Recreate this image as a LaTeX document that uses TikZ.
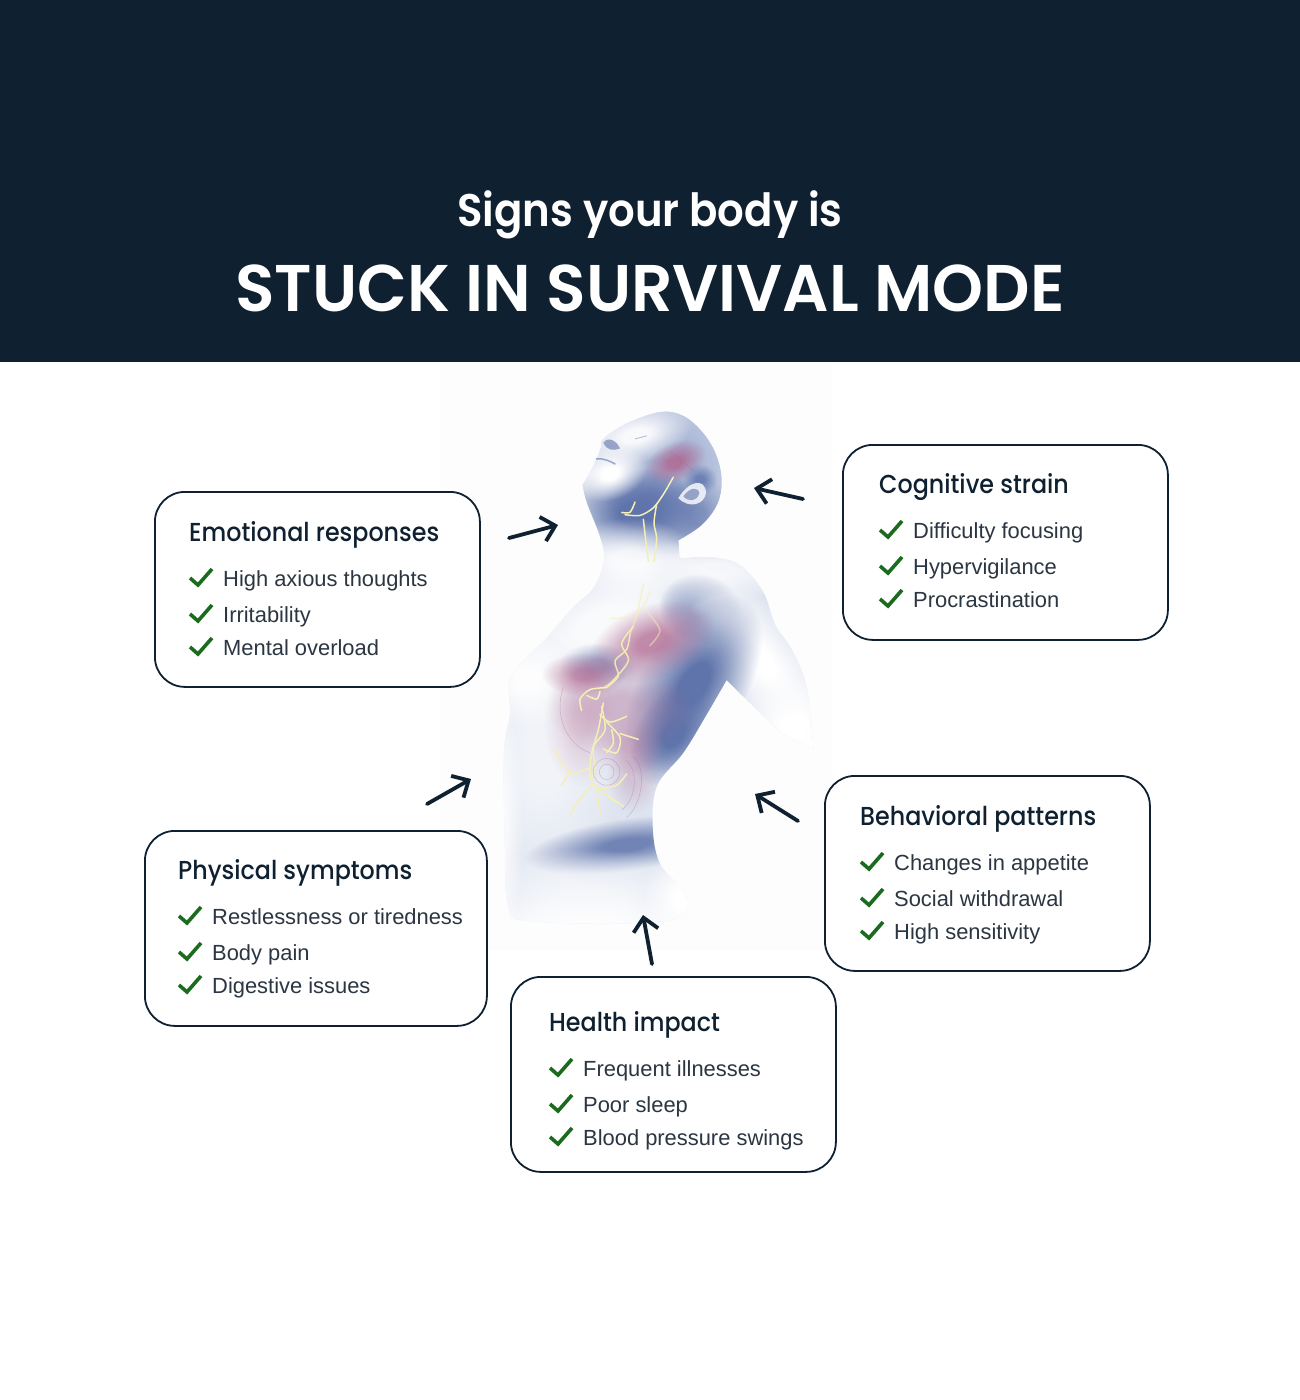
\documentclass[tikz,border=0pt]{standalone}
\usepackage{fontspec}
\usetikzlibrary{arrows.meta,fadings}
\setmainfont{Liberation Sans}
\newfontfamily\headfont{Poppins}[UprightFont=* Medium,FakeStretch=0.915]
\newfontfamily\subfont{Poppins}[UprightFont=* SemiBold,FakeStretch=0.915]
\newfontfamily\titlefont{Poppins}[UprightFont=* SemiBold,FakeStretch=0.982]
\definecolor{navy}{HTML}{0F2030}
\definecolor{inkgrey}{HTML}{2B3642}
\definecolor{tickgreen}{HTML}{1B6B1E}
\definecolor{skin}{HTML}{DDE3EF}
\definecolor{paleblue}{HTML}{A5B3D4}
\definecolor{bodyblue}{HTML}{5F74AB}
\definecolor{nerve}{HTML}{F4EFB4}
\definecolor{organ}{HTML}{B0608A}
\pgfdeclareradialshading{softshade}{\pgfpointorigin}{color(0bp)=(white); color(5bp)=(white); color(22bp)=(black); color(50bp)=(black)}
\pgfdeclarefading{softfade}{\pgfuseshading{softshade}}
\tikzset{
  signbox/.style={draw=navy,line width=1.8pt,rounded corners=30pt,fill=white,
    minimum width=#1,minimum height=195pt,anchor=north west,inner sep=0pt},
  signhead/.style={anchor=base west,inner sep=0pt,text=navy,font=\headfont\fontsize{26}{30}\selectfont},
  signitem/.style={anchor=base west,inner sep=0pt,text=inkgrey,font=\fontsize{21.9}{26}\selectfont},
  tick/.style={draw=tickgreen,line width=3.6pt,line join=miter},
  pointer/.style={draw=navy,line width=3.8pt,line cap=round,
    -{Straight Barb[length=13pt,width=25pt,line width=3.8pt]}},
  nerveline/.style={draw=nerve,line width=1.5pt,line join=round,line cap=round},
  organline/.style={draw=organ,line width=.5pt,opacity=.35}
}
% x y rx ry angle colour opacity, x and y as read off the crop
\newcommand{\softblob}[7]{\fill[#6,opacity=#7,path fading=softfade,
  transform canvas={shift={({430+#1/3},{370+#2/2.613})},rotate=#5}] (0,0) ellipse ({1.3*#3/3} and {1.3*#4/2.613});}
\newcommand{\nervepath}[2][]{\draw[nerveline,#1] plot[smooth,tension=.5] coordinates {#2};}
% one box with its heading and three ticked lines
\newcommand{\signcard}[9]{%
  \node[signbox=#4] (#1) at (#2,#3) {};
  \coordinate (#1text) at ([shift={#5}]#1.north west);
  \node[signhead] (#1head) at ([shift={(0,49)}]#1text) {#6};
  \node[signitem] (#1a) at ([shift={(34,94)}]#1text) {#7};
  \node[signitem] (#1b) at ([shift={(34,130)}]#1text) {#8};
  \node[signitem] (#1c) at ([shift={(34,163)}]#1text) {#9};
  \draw[tick] (#1a.base west) ++(-33,-8) -- ++(8,7) -- ++(14,-16);
  \draw[tick] (#1b.base west) ++(-33,-8) -- ++(8,7) -- ++(14,-16);
  \draw[tick] (#1c.base west) ++(-33,-8) -- ++(8,7) -- ++(14,-16);
}
\def\bodypath{plot[smooth,tension=.6] coordinates {(458,300) (490,250) (512,205) (520,180) (590,140) (690,110) (760,120) (820,165) (860,225) (875,290) (862,350) (815,405) (745,445)}
  -- (748,490) -- plot[smooth,tension=.6] coordinates {(760,492) (850,490) (930,510) (1000,580) (1035,665) (1085,730) (1130,830) (1150,990)}
  -- plot[smooth,tension=.6] coordinates {(1150,990) (1060,950) (960,870) (890,810)}
  -- plot[smooth,tension=.6] coordinates {(890,810) (830,900) (760,1000) (682,1085) (668,1190) (690,1290) (770,1380) (700,1440) (300,1440) (235,1400) (225,1250) (222,1000) (240,900) (238,820) (270,770) (350,700) (430,620) (490,570) (522,500) (512,440) (470,345) (458,300)}
  -- cycle}
\begin{document}
\begin{tikzpicture}[x=1pt,y=-1pt]
\useasboundingbox (0,0) rectangle (1300,1400);
\fill[navy] (0,0) rectangle (1300,362);
\fill[black!.7] (440,365) rectangle (832,950);
\node[text=white,inner sep=0pt,anchor=base,font=\subfont\fontsize{45.7}{50}\selectfont] (subtitle) at (650,226) {Signs your body is};
\node[text=white,inner sep=0pt,anchor=base,font=\titlefont\fontsize{66}{70}\selectfont] (title) at (650,311) {STUCK IN SURVIVAL MODE};
% the figure
\begin{scope}
  \clip[shift={(430,370)},xscale=1/3,yscale=1/2.613] \bodypath;
  \fill[skin] (430,370) rectangle (850,970);
  \softblob{730}{260}{230}{250}{0}{paleblue}{1}
  \softblob{620}{375}{190}{110}{-5}{bodyblue}{1}
  \softblob{660}{340}{120}{70}{-5}{bodyblue}{.7}
  \softblob{800}{380}{100}{90}{0}{bodyblue}{.6}
  \softblob{620}{170}{150}{65}{15}{white}{.9}
  \softblob{540}{270}{100}{60}{20}{white}{1}
  \softblob{600}{495}{180}{95}{0}{white}{.85}
  \softblob{860}{520}{210}{60}{-10}{white}{.7}
  \softblob{520}{660}{320}{130}{25}{white}{.85}
  \softblob{290}{810}{130}{110}{0}{white}{.95}
  \softblob{810}{625}{110}{80}{-15}{bodyblue}{1}
  \softblob{970}{740}{125}{300}{42}{white}{1}
  \softblob{1090}{930}{150}{120}{0}{white}{1}
  \softblob{1160}{1000}{110}{90}{0}{white}{1}
  \softblob{790}{820}{260}{120}{58}{bodyblue}{1}
  \softblob{730}{950}{150}{85}{58}{bodyblue}{1}
  \softblob{500}{770}{100}{50}{0}{bodyblue}{.6}
  \softblob{340}{1010}{220}{340}{0}{white}{.6}
  \softblob{590}{1240}{270}{60}{8}{bodyblue}{.85}
  \softblob{470}{1400}{400}{130}{0}{white}{.75}
  \softblob{470}{1480}{480}{90}{0}{white}{1}
  \softblob{760}{1380}{110}{110}{0}{white}{1}
  \softblob{200}{1200}{70}{330}{0}{white}{.9}
  % organs
  \softblob{665}{710}{170}{85}{20}{organ}{.7}
  \softblob{460}{795}{110}{50}{0}{organ}{.6}
  \softblob{570}{880}{190}{105}{0}{organ}{.35}
  \softblob{450}{920}{95}{145}{0}{organ}{.25}
  \softblob{600}{980}{95}{70}{0}{organ}{.35}
  \softblob{610}{1060}{70}{85}{0}{organ}{.25}
  \softblob{735}{240}{85}{45}{25}{organ}{.75}
  \softblob{810}{285}{45}{35}{0}{bodyblue}{.8}
\end{scope}
\begin{scope}[shift={(430,370)},xscale=1/3,yscale=1/2.613]
  % face and ear
  \draw[bodyblue,line width=1.5pt,opacity=.6] (498,232) .. controls (520,230) and (540,238) .. (556,246);
  \fill[bodyblue,opacity=.6] (520,190) .. controls (535,172) and (560,185) .. (570,205) .. controls (550,212) and (530,210) .. cycle;
  \draw[bodyblue,line width=1pt,opacity=.4] (615,180) -- (650,172);
  \fill[white,opacity=.8] (745,335) .. controls (775,290) and (825,280) .. (828,320) .. controls (825,350) and (780,365) .. cycle;
  \fill[bodyblue,opacity=.6] (760,330) .. controls (780,305) and (805,305) .. (808,322) .. controls (800,345) and (775,345) .. cycle;
  % nerves
  \nervepath{(730,280) (700,325) (670,360) (630,380) (585,378)}
  \nervepath{(575,372) (600,372) (615,345)}
  \nervepath{(680,350) (672,400) (680,440) (672,500)}
  \nervepath{(640,390) (648,450) (655,500)}
  \nervepath[opacity=.6]{(640,560) (620,640) (600,690)}
  \nervepath[opacity=.9]{(610,670) (575,715) (595,760) (545,815) (520,830)}
  \nervepath[opacity=.9]{(600,690) (590,730) (555,760) (565,800) (530,830)}
  \nervepath[opacity=.5]{(660,580) (620,640) (540,650)}
  \nervepath[opacity=.5]{(650,630) (690,680) (660,720)}
  \nervepath{(530,830) (480,835) (450,860) (455,890)}
  \nervepath{(470,850) (500,860) (510,840)}
  \nervepath{(520,870) (505,940) (485,1000) (480,1060) (500,1090) (560,1130)}
  \nervepath{(515,880) (525,940) (490,985) (495,1040) (480,1070)}
  \nervepath{(510,900) (540,920) (590,905)}
  \nervepath{(530,920) (570,960) (560,1000) (520,990)}
  \nervepath{(570,950) (625,965)}
  \nervepath{(545,940) (550,975) (530,1000)}
  \nervepath{(480,1040) (420,1050) (370,990)}
  \nervepath{(420,1050) (395,1085)}
  \nervepath{(490,1080) (450,1120) (420,1160)}
  \nervepath{(500,1095) (510,1160)}
  \nervepath{(510,1095) (560,1085) (590,1055)}
  \nervepath{(530,1110) (580,1140)}
  % bowel
  \draw[organline] (530,1050) ellipse (40 and 35);
  \draw[organline] (530,1050) ellipse (22 and 20);
  \draw[organline] (610,1010) .. controls (650,1040) and (640,1130) .. (590,1170);
  \draw[organline] (590,1020) .. controls (625,1050) and (620,1120) .. (575,1150);
  \draw[organline] (400,830) .. controls (370,900) and (410,980) .. (480,1000);
  \draw[organline] (720,215) .. controls (750,225) and (770,250) .. (730,260);
  \draw[organline] (700,235) .. controls (740,240) and (750,225) .. (790,265);
\end{scope}
% the boxes
\signcard{emotional}{154}{491}{325pt}{(35,1)}{Emotional responses}{High axious thoughts}{Irritability}{Mental overload}
\signcard{cognitive}{842}{444}{325pt}{(37,0)}{Cognitive strain}{Difficulty focusing}{Hypervigilance}{Procrastination}
\signcard{behavioral}{824}{775}{325pt}{(36,1)}{Behavioral patterns}{Changes in appetite}{Social withdrawal}{High sensitivity}
\signcard{physical}{144}{830}{342pt}{(34,0)}{Physical symptoms}{Restlessness or tiredness}{Body pain}{Digestive issues}
\signcard{health}{510}{976}{325pt}{(39,6)}{Health impact}{Frequent illnesses}{Poor sleep}{Blood pressure swings}
% the pointers
\coordinate (emotionalout) at (509,538);
\coordinate (emotionalin) at (558,525);
\coordinate (cognitiveout) at (803,499);
\coordinate (cognitivein) at (754,488);
\coordinate (behavioralout) at (798,821);
\coordinate (behavioralin) at (755,794);
\coordinate (physicalout) at (427,804);
\coordinate (physicalin) at (471,779);
\coordinate (healthout) at (652,964);
\coordinate (healthin) at (643,915);
\draw[pointer] (emotionalout) -- (emotionalin);
\draw[pointer] (cognitiveout) -- (cognitivein);
\draw[pointer] (behavioralout) -- (behavioralin);
\draw[pointer] (physicalout) -- (physicalin);
\draw[pointer] (healthout) -- (healthin);
\end{tikzpicture}
\end{document}
